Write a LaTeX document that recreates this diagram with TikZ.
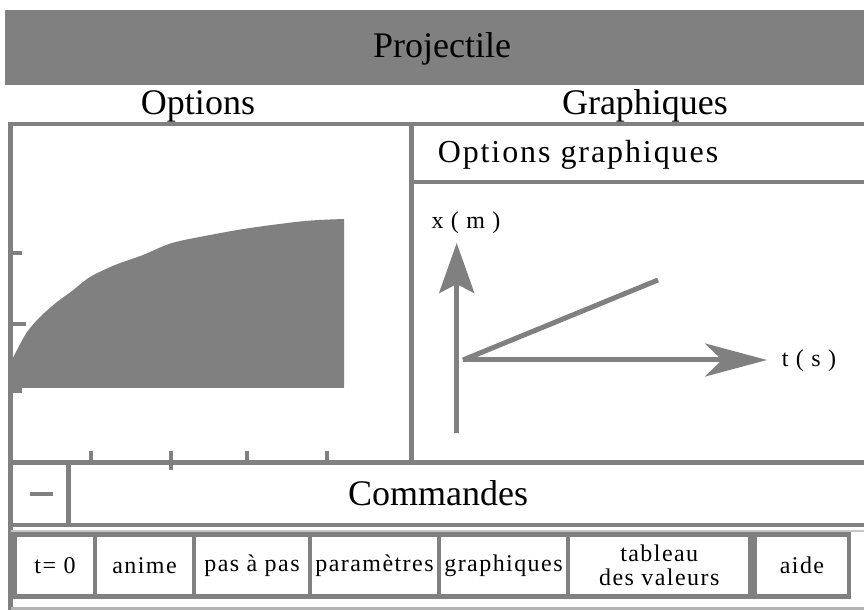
\documentclass[tikz,border=0pt]{standalone}
\usepackage{fontspec}
\setmainfont{Liberation Serif}
\newfontfamily\espace[LetterSpace=6]{Liberation Serif}
\usetikzlibrary{arrows.meta}
\usetikzlibrary{positioning}
\definecolor{gris}{RGB}{128,128,128}

\begin{document}
\begin{tikzpicture}[x=0.5pt, y=-0.5pt,
      cadre/.style = {draw=gris, line width=2.25pt},
      grand/.style = {font=\fontsize{18}{20}\selectfont},
      petit/.style = {font=\espace\fontsize{12}{12}\selectfont},
      bouton/.style = {draw=gris, line width=2.25pt, outer sep=0pt,
        minimum height=31pt, inner sep=0pt, align=center, petit},
      axe/.style = {draw=gris, line width=2.5pt}]
  \clip (0,0) rectangle (864,610);
  % bandeau
  \fill[gris] (5,10) rectangle (880,85);
  \node[grand, anchor=base] (titre) at (442,58) {Projectile};
  \node[grand, anchor=base] (options) at (198,115) {Options};
  \node[grand, anchor=base] (graphiques) at (645,115) {Graphiques};

  % courbe (panneau gauche)
  \fill[gris] (13,388) -- (13,358) -- plot[smooth] coordinates {(17,350) (27,332)
      (40,317) (57,302) (72,291) (90,277) (115,265) (143,255) (172,243)
      (210,235) (250,228) (305,221) (344,219)} -- (344,388) -- cycle;

  % cadres
  \draw[cadre] (10.5,612) -- (10.5,124) -- (870,124);
  \draw[cadre] (411.5,124) -- (411.5,462.5);
  \draw[cadre] (411.5,182) -- (870,182);
  \draw[cadre] (10.5,462.5) -- (870,462.5);
  \draw[cadre] (68.5,462.5) -- (68.5,525);
  \draw[cadre] (10.5,525) -- (870,525);
  \draw[gris!45, line width=1pt] (10.5,531) -- (870,531);
  \draw[gris!60, line width=1.5pt] (10.5,608.5) -- (870,608.5);

  % graduations
  \draw[cadre] (10.5,253) -- (22,253);
  \draw[cadre] (10.5,324) -- (26,324);
  \draw[cadre] (10.5,390.5) -- (22,390.5);
  \foreach \gx in {91,171,247,327}
    \draw[cadre] (\gx,451) -- (\gx,462.5);
  \draw[cadre] (171,462.5) -- (171,470);

  % options graphiques
  \node[font=\espace\fontsize{16}{18}\selectfont, anchor=base] (optgraph) at (578,163) {Options graphiques};
  \coordinate (xbas) at (456.7,433);
  \coordinate (xhaut) at (456.7,243);
  \coordinate (origine) at (463,360);
  \coordinate (tfin) at (767,360);
  \coordinate (pente) at (658,280);
  \draw[axe, -{Stealth[length=25pt, width=17.5pt, inset=4.5pt]}] (xbas) -- (xhaut);
  \draw[axe, -{Stealth[length=31pt, width=16.5pt, inset=8.5pt]}] (origine) -- (tfin);
  \draw[axe] (origine) -- (pente);
  \node[petit, anchor=base] (labelx) at (466,229) {x ( m )};
  \node[petit, anchor=base] (labelt) at (809,366) {t ( s )};

  % commandes
  \draw[gris, line width=2pt] (30,494) -- (53,494);
  \node[grand, anchor=base] (commandes) at (438,505) {Commandes};

  \node[bouton, minimum width=40pt, anchor=west] (t0) at (15,565.5) {t= 0};
  \node[bouton, minimum width=49.5pt, right=0pt of t0] (anime) {anime};
  \node[bouton, minimum width=58pt, right=0pt of anime] (pasapas) {pas à pas};
  \node[bouton, minimum width=64.5pt, right=0pt of pasapas] (parametres) {paramètres};
  \node[bouton, minimum width=64.5pt, right=0pt of parametres] (graph) {graphiques};
  \node[bouton, minimum width=91.25pt, right=0pt of graph] (tableau) {tableau\\des valeurs};
  \node[bouton, minimum width=47pt, right=2.25pt of tableau] (aide) {aide};
\end{tikzpicture}
\end{document}
